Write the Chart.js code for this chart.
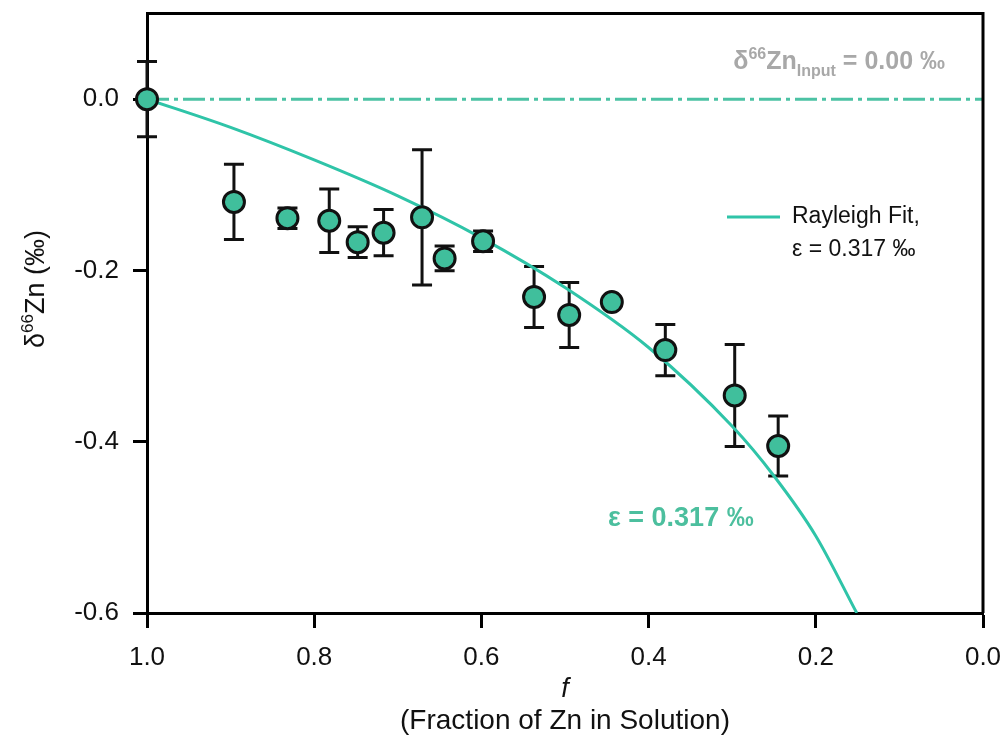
<!DOCTYPE html>
<html>
<head>
<meta charset="utf-8">
<script src="https://cdn.jsdelivr.net/npm/chart.js@4"></script>
<style>
  html, body { margin: 0; padding: 0; background: #fff; }
  #wrap { width: 1006px; height: 744px; }
</style>
</head>
<body>
<div id="wrap"><canvas id="grafica" width="1006" height="744"></canvas></div>
<script>
// measured points (f, delta66Zn, +/- error)
const fracF = [1.0, 0.896, 0.832, 0.782, 0.748, 0.717, 0.671, 0.644, 0.598, 0.537, 0.495, 0.444, 0.380, 0.297, 0.245];
const deltaZn = [0.0, -0.120, -0.139, -0.142, -0.167, -0.156, -0.138, -0.186, -0.166, -0.231, -0.252, -0.237, -0.293, -0.346, -0.405];
const errZn = [0.044, 0.044, 0.012, 0.037, 0.018, 0.027, 0.079, 0.0145, 0.012, 0.0355, 0.038, 0, 0.030, 0.0595, 0.035];

// Rayleigh fit curve
const fitF = [1.0, 0.9, 0.8, 0.7, 0.6, 0.5, 0.4, 0.3, 0.25, 0.2, 0.151];
const fitD = [0.0, -0.033, -0.071, -0.113, -0.162, -0.220, -0.290, -0.382, -0.440, -0.510, -0.600];

// input line
const inputF = [1.0, 0.0];
const inputD = [0.0, 0.0];

const xTicks = [1.0, 0.8, 0.6, 0.4, 0.2, 0.0];
const yTicks = [0.0, -0.2, -0.4, -0.6];

const teal = '#2fc4a8';
const markerFill = '#40bf9c';
const FONT = "'Liberation Sans', Arial, sans-serif";

const pts = fracF.map((f, i) => ({ x: f, y: deltaZn[i] }));
const fit = fitF.map((f, i) => ({ x: f, y: fitD[i] }));
const inp = inputF.map((f, i) => ({ x: f, y: inputD[i] }));

// error bars under the markers
const errorBars = {
  id: 'errorBars',
  beforeDatasetsDraw(chart) {
    const ctx = chart.ctx;
    const xs = chart.scales.x, ys = chart.scales.y;
    ctx.save();
    ctx.strokeStyle = '#111';
    ctx.lineWidth = 3;
    for (let i = 0; i < fracF.length; i++) {
      if (!errZn[i]) continue;
      const px = xs.getPixelForValue(fracF[i]);
      const top = ys.getPixelForValue(deltaZn[i] + errZn[i]);
      const bot = ys.getPixelForValue(deltaZn[i] - errZn[i]);
      ctx.beginPath();
      ctx.moveTo(px, top); ctx.lineTo(px, bot);
      ctx.moveTo(px - 10, top); ctx.lineTo(px + 10, top);
      ctx.moveTo(px - 10, bot); ctx.lineTo(px + 10, bot);
      ctx.stroke();
    }
    ctx.restore();
  }
};

// write a sequence of text pieces, [text, font, dy]
function drawPieces(ctx, pieces, x, y, align) {
  let total = 0;
  pieces.forEach(p => { ctx.font = p[1]; total += ctx.measureText(p[0]).width; });
  let cx = align === 'right' ? x - total : (align === 'center' ? x - total / 2 : x);
  ctx.textAlign = 'left';
  pieces.forEach(p => {
    ctx.font = p[1];
    ctx.fillText(p[0], cx, y + (p[2] || 0));
    cx += ctx.measureText(p[0]).width;
  });
}

const decorations = {
  id: 'decorations',
  afterDraw(chart) {
    const ctx = chart.ctx;
    const a = chart.chartArea;
    ctx.save();
    // top and right frame
    ctx.strokeStyle = '#000';
    ctx.lineWidth = 3;
    ctx.beginPath();
    ctx.moveTo(a.left, a.top); ctx.lineTo(a.right, a.top); ctx.lineTo(a.right, a.bottom);
    ctx.stroke();

    ctx.textBaseline = 'alphabetic';
    // input label
    ctx.fillStyle = '#a8a8a8';
    drawPieces(ctx, [
      ['\u03b4', 'bold 25px ' + FONT, 0],
      ['66', 'bold 16px ' + FONT, -10],
      ['Zn', 'bold 25px ' + FONT, 0],
      ['Input', 'bold 16px ' + FONT, 7],
      [' = 0.00 \u2030', 'bold 25px ' + FONT, 0]
    ], 945, 69, 'right');

    // epsilon label near curve
    ctx.fillStyle = '#4cbf9e';
    ctx.font = 'bold 27px ' + FONT;
    ctx.textAlign = 'left';
    ctx.fillText('\u03b5 = 0.317 \u2030', 608, 526);

    // legend
    ctx.strokeStyle = teal;
    ctx.lineWidth = 3;
    ctx.beginPath();
    ctx.moveTo(727, 217); ctx.lineTo(780, 217);
    ctx.stroke();
    ctx.fillStyle = '#111';
    ctx.font = '23px ' + FONT;
    ctx.textBaseline = 'middle';
    ctx.fillText('Rayleigh Fit,', 792, 217);
    ctx.fillText('\u03b5 = 0.317 \u2030', 792, 250);

    // y title
    ctx.save();
    ctx.translate(44, 289);
    ctx.rotate(-Math.PI / 2);
    ctx.textBaseline = 'alphabetic';
    drawPieces(ctx, [
      ['\u03b4', '27px ' + FONT, 0],
      ['66', '17px ' + FONT, -11],
      ['Zn (\u2030)', '27px ' + FONT, 0]
    ], 0, 0, 'center');
    ctx.restore();

    // x title
    ctx.fillStyle = '#111';
    ctx.textAlign = 'center';
    ctx.textBaseline = 'middle';
    ctx.font = 'italic 27px ' + FONT;
    ctx.fillText('f', (a.left + a.right) / 2, 689);
    ctx.font = '28px ' + FONT;
    ctx.fillText('(Fraction of Zn in Solution)', (a.left + a.right) / 2, 721);
    ctx.restore();
  }
};

const graph = document.getElementById('grafica');
const myChart = new Chart(graph, {
  type: 'scatter',
  data: {
    datasets: [
      {
        label: 'data',
        data: pts,
        pointRadius: 10.5,
        pointBackgroundColor: markerFill,
        pointBorderColor: '#111',
        pointBorderWidth: 3,
        showLine: false,
        clip: false,
        order: 0
      },
      {
        label: 'Rayleigh Fit',
        data: fit,
        showLine: true,
        pointRadius: 0,
        borderColor: teal,
        borderWidth: 3,
        cubicInterpolationMode: 'monotone',
        order: 1
      },
      {
        label: 'Input',
        data: inp,
        showLine: true,
        pointRadius: 0,
        borderColor: '#4cc2a4',
        borderWidth: 3,
        borderDash: [22, 5, 4, 5],
        order: 2
      }
    ]
  },
  plugins: [errorBars, decorations],
  options: {
    responsive: false,
    animation: false,
    events: [],
    layout: { padding: { top: 13, right: 23, left: 0, bottom: 0 } },
    plugins: { legend: { display: false }, tooltip: { enabled: false } },
    scales: {
      x: {
        type: 'linear',
        reverse: true,
        min: 0,
        max: 1,
        afterBuildTicks: s => { s.ticks = xTicks.map(v => ({ value: v })); },
        afterFit: s => { s.height = 131; s.paddingLeft = 0; s.paddingRight = 0; },
        ticks: {
          color: '#111',
          padding: 14,
          font: { family: FONT, size: 26 },
          callback: v => Number(v).toFixed(1)
        },
        grid: { drawOnChartArea: false, tickLength: 15, tickWidth: 3, tickColor: '#000' },
        border: { color: '#000', width: 3 }
      },
      y: {
        type: 'linear',
        min: -0.6,
        max: 0.1,
        afterBuildTicks: s => { s.ticks = yTicks.map(v => ({ value: v })); },
        afterFit: s => { s.width = 147; s.paddingTop = 0; s.paddingBottom = 0; },
        ticks: {
          color: '#111',
          padding: 14,
          font: { family: FONT, size: 26 },
          callback: v => Number(v).toFixed(1)
        },
        grid: { drawOnChartArea: false, tickLength: 14, tickWidth: 3, tickColor: '#000' },
        border: { color: '#000', width: 3 }
      }
    }
  }
});
</script>
</body>
</html>
